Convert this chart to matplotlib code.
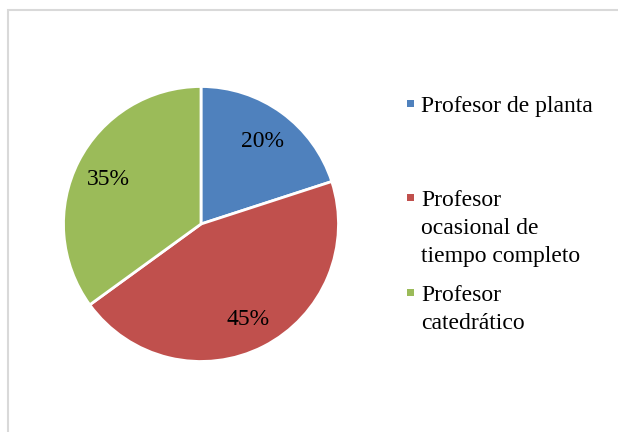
import matplotlib.pyplot as plt
from matplotlib.patches import Rectangle

# Data
labels = ['Profesor de planta', 'Profesor\nocasional de\ntiempo completo', 'Profesor\ncatedrático']
values = [20, 45, 35]
colors = ['#4F81BD', '#C0504D', '#9BBB59']

W, H = 618, 432
fig = plt.figure(figsize=(W / 100, H / 100), dpi=100)
plt.rcParams['font.family'] = ['Liberation Serif', 'DejaVu Serif']

# chart border (light gray, runs off right and bottom)
fig.patches.append(Rectangle((7.5 / W, -0.1), 2, 421.5 / H + 0.1, transform=fig.transFigure,
                             fill=False, edgecolor='#D9D9D9', linewidth=1.5))

# pie axes: centre (201, 224) px, radius ~137 px
cx, cy, r = 201, 224, 137.5
ax = fig.add_axes([(cx - r) / W, (H - cy - r) / H, 2 * r / W, 2 * r / H])
wedges, texts, autotexts = ax.pie(values, colors=colors, startangle=90, counterclock=False,
                                  autopct='%1.0f%%', pctdistance=0.76, radius=1,
                                  wedgeprops=dict(edgecolor='white', linewidth=2),
                                  textprops=dict(fontsize=17, color='black'))
for t in autotexts:
    t.set_va('center_baseline')
ax.set_xlim(-1, 1)
ax.set_ylim(-1, 1)
ax.set_aspect('equal')
ax.axis('off')

# legend drawn by hand so the marker sits on the first line
line_h = 28
y_start = [112, 206, 301]
for lab, col, yb in zip(labels, colors, y_start):
    fig.patches.append(Rectangle((407 / W, (H - yb + 5) / H), 7 / W, 7 / H,
                                 transform=fig.transFigure, facecolor=col, edgecolor='none'))
    for i, part in enumerate(lab.split('\n')):
        fig.text(421 / W, (H - yb - i * line_h) / H, part, fontsize=17,
                 ha='left', va='baseline')

fig.savefig('out.png', dpi=100)
